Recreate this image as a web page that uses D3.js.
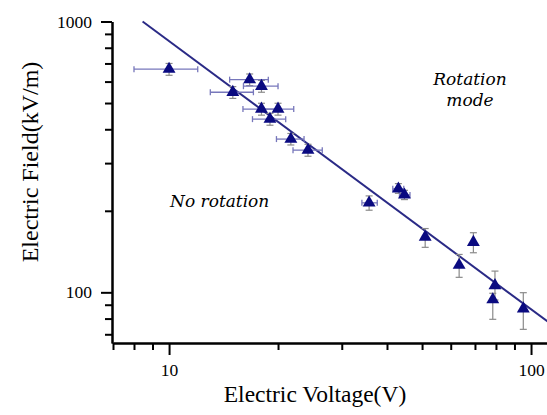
<!DOCTYPE html>
<html>
<head>
<meta charset="utf-8">
<script src="https://cdn.jsdelivr.net/npm/d3@7"></script>
<style>
  html, body { margin: 0; padding: 0; background: #fff; }
  svg { display: block; }
</style>
</head>
<body>
<svg id="chart" width="547" height="415"></svg>
<script>
// ---- data ----
const voltage  = [10, 15, 16.7, 18, 18, 20, 19, 21.7, 24.2, 35.7, 43, 44.7, 51, 69.3, 63.3, 79.5, 78.4, 95.2];
const field    = [667, 548, 610, 577, 475, 475, 436, 368, 335, 214, 241, 229, 160, 153, 126, 106, 94, 87];
const voltLo   = [8.0, 13.0, 14.7, 16.05, 16.0, 18.0, 17.0, 19.8, 22.0, 34.1, 41.5, 43.3, null, null, null, null, null, null];
const voltHi   = [12.0, 17.1, 18.8, 20.0, 20.0, 22.1, 21.0, 23.6, 26.5, 37.6, 44.5, 46.3, null, null, null, null, null, null];
const fieldLo  = [633, 520, 580, 548, 451, 451, 414, 350, 318, 201, 232, 220, 146.6, 140, 113.6, 93.7, 79.5, 73];
const fieldHi  = [700, 575, 640, 606, 499, 499, 458, 386, 352, 227, 252, 238, 172, 166, 138, 119.8, 99.2, 99.7];
const fitVoltage = [8.45, 115];
const fitField   = [1000, 75.4];
const xMajorTicks = [10, 100];
const xMinorTicks = [7, 8, 9, 20, 30, 40, 50, 60, 70, 80, 90];
const yMajorTicks = [100, 1000];
const yMinorTicks = [70, 80, 90, 200, 300, 400, 500, 600, 700, 800, 900];
const xTitle = "Electric Voltage(V)";
const yTitle = "Electric Field(kV/m)";
const noteLeft = ["No rotation"];
const noteRight = ["Rotation", "mode"];

// ---- layout ----
const svg = d3.select("#chart");
const x = d3.scaleLog().domain([7, 115]).range([113, 553]);
const y = d3.scaleLog().domain([65, 1000]).range([343, 21.5]);
const serif = "'Liberation Serif', 'Times New Roman', serif";
const navy = "#0a0a80";

// fit line
const fit = fitVoltage.map((v, i) => [v, fitField[i]]);
svg.append("path")
  .attr("d", d3.line().x(d => x(d[0])).y(d => y(d[1]))(fit))
  .attr("fill", "none").attr("stroke", "#2a2a86").attr("stroke-width", 2);

const pts = voltage.map((v, i) => ({v, e: field[i], vl: voltLo[i], vh: voltHi[i], el: fieldLo[i], eh: fieldHi[i]}));

// vertical error bars (gray)
const vg = svg.append("g").attr("stroke", "#8a8a8a").attr("stroke-width", 1.2).attr("fill", "none");
pts.forEach(p => {
  if (p.el == null) return;
  const cx = x(p.v);
  vg.append("line").attr("x1", cx).attr("x2", cx).attr("y1", y(p.el)).attr("y2", y(p.eh));
  vg.append("line").attr("x1", cx - 3.5).attr("x2", cx + 3.5).attr("y1", y(p.el)).attr("y2", y(p.el));
  vg.append("line").attr("x1", cx - 3.5).attr("x2", cx + 3.5).attr("y1", y(p.eh)).attr("y2", y(p.eh));
});

// horizontal error bars (lavender)
const hg = svg.append("g").attr("stroke", "#7777bb").attr("stroke-width", 1.3).attr("fill", "none");
pts.forEach(p => {
  if (p.vl == null) return;
  const cy = y(p.e);
  hg.append("line").attr("x1", x(p.vl)).attr("x2", x(p.vh)).attr("y1", cy).attr("y2", cy);
  hg.append("line").attr("x1", x(p.vl)).attr("x2", x(p.vl)).attr("y1", cy - 3).attr("y2", cy + 3);
  hg.append("line").attr("x1", x(p.vh)).attr("x2", x(p.vh)).attr("y1", cy - 3).attr("y2", cy + 3);
});

// markers
svg.append("g").selectAll("path").data(pts).join("path")
  .attr("transform", d => `translate(${x(d.v)},${y(d.e)})`)
  .attr("d", d3.symbol(d3.symbolTriangle, 72))
  .attr("fill", navy);

// axes
function styleAxis(g) {
  g.selectAll("path.domain").attr("stroke", "#000").attr("stroke-width", 2);
  g.selectAll(".tick line").attr("stroke", "#000").attr("stroke-width", 2);
  g.selectAll("text").attr("font-family", serif).attr("font-size", 17.5).attr("fill", "#000");
}
const fmt = d3.format("d");
svg.append("g").attr("transform", "translate(0,343)")
  .call(d3.axisBottom(x).tickValues(xMinorTicks).tickSize(7).tickSizeOuter(0).tickFormat(""))
  .call(styleAxis);
svg.append("g").attr("transform", "translate(0,343)")
  .call(d3.axisBottom(x).tickValues(xMajorTicks).tickSize(12).tickSizeOuter(0).tickPadding(9).tickFormat(fmt))
  .call(styleAxis);
svg.append("g").attr("transform", "translate(112,0)")
  .call(d3.axisLeft(y).tickValues(yMinorTicks).tickSize(7).tickSizeOuter(0).tickFormat(""))
  .call(styleAxis);
svg.append("g").attr("transform", "translate(112,0)")
  .call(d3.axisLeft(y).tickValues(yMajorTicks).tickSize(11).tickSizeOuter(0).tickPadding(9).tickFormat(fmt))
  .call(styleAxis);

// titles
svg.append("text").attr("x", 315).attr("y", 402).attr("text-anchor", "middle")
  .attr("font-family", serif).attr("font-size", 23.5).text(xTitle);
svg.append("text").attr("transform", "translate(38,162) rotate(-90)").attr("text-anchor", "middle")
  .attr("font-family", serif).attr("font-size", 24).text(yTitle);

// annotations
const italic = "'DejaVu Serif', serif";
svg.append("text").attr("x", 170).attr("y", 206.5)
  .attr("font-family", italic).attr("font-style", "italic").attr("font-size", 17)
  .text(noteLeft[0]);
noteRight.forEach((t, i) => {
  svg.append("text").attr("x", 470).attr("y", 85 + i * 20.5).attr("text-anchor", "middle")
    .attr("font-family", italic).attr("font-style", "italic").attr("font-size", 17)
    .text(t);
});
</script>
</body>
</html>
